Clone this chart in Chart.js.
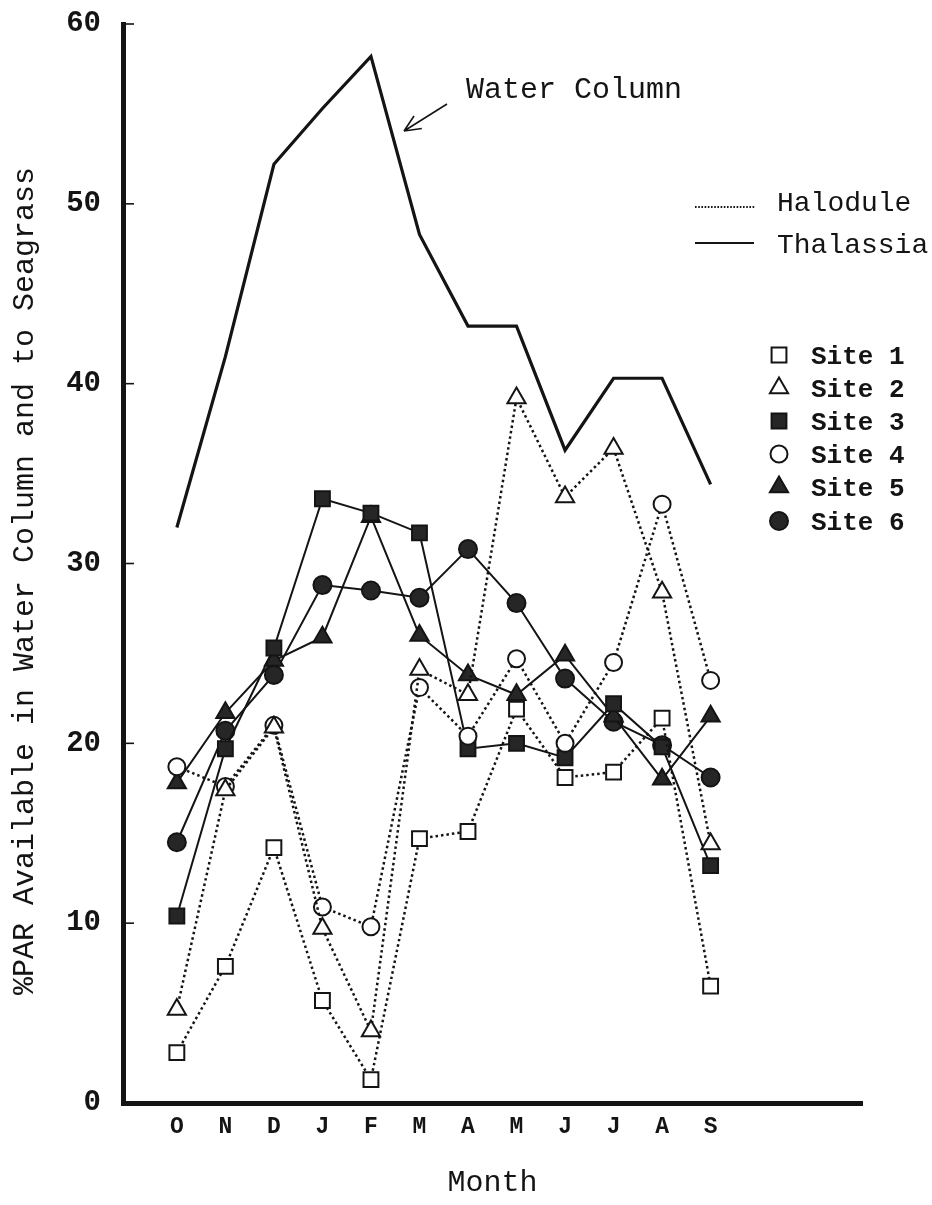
<!DOCTYPE html>
<html>
<head>
<meta charset="utf-8">
<title>%PAR Available in Water Column and to Seagrass</title>
<script src="https://cdn.jsdelivr.net/npm/chart.js@4.4.1/dist/chart.umd.min.js"></script>
<style>
  html, body { margin: 0; padding: 0; background: #fff; }
  canvas { display: block; }
</style>
</head>
<body>
<canvas id="chart" width="932" height="1205"></canvas>
<script>
// Month categories (October through September)
const months = ['O', 'N', 'D', 'J', 'F', 'M', 'A', 'M', 'J', 'J', 'A', 'S'];

// %PAR available in the water column
const waterColumn = [32.0, 41.5, 52.2, 55.3, 58.2, 48.3, 43.2, 43.2, 36.3, 40.3, 40.3, 34.4];

// %PAR reaching the seagrass at each site
const site1 = [2.8, 7.6, 14.2, 5.7, 1.3, 14.7, 15.1, 21.9, 18.1, 18.4, 21.4, 6.5];
const site2 = [5.2, 17.4, 20.9, 9.7, 4.0, 24.1, 22.7, 39.2, 33.7, 36.4, 28.4, 14.4];
const site3 = [10.4, 19.7, 25.3, 33.6, 32.8, 31.7, 19.7, 20.0, 19.2, 22.2, 19.8, 13.2];
const site4 = [18.7, 17.6, 21.0, 10.9, 9.8, 23.1, 20.4, 24.7, 20.0, 24.5, 33.3, 23.5];
const site5 = [17.8, 21.7, 24.6, 25.9, 32.6, 26.0, 23.8, 22.7, 24.9, 21.5, 18.0, 21.5];
const site6 = [14.5, 20.7, 23.8, 28.8, 28.5, 28.1, 30.8, 27.8, 23.6, 21.2, 19.9, 18.1];

// Y axis tick values
const yTicks = [0, 10, 20, 30, 40, 50, 60];

const INK = '#141414';
const MONO = '"Liberation Mono", "DejaVu Sans Mono", monospace';

const toPoints = vals => vals.map((v, i) => ({ x: i, y: v }));

// Halodule sites are dotted, Thalassia sites are solid
const dotted = { borderDash: [2.5, 3], borderWidth: 2.5 };
const solid = { borderDash: [], borderWidth: 2 };

function siteSet(label, vals, line, pointStyle, radius, filled) {
  return Object.assign({
    label,
    data: toPoints(vals),
    borderColor: INK,
    pointStyle,
    pointRadius: radius,
    pointBorderWidth: 2,
    pointBorderColor: INK,
    pointBackgroundColor: filled ? '#262626' : '#ffffff',
    tension: 0,
    fill: false
  }, line);
}

const datasets = [
  {
    label: 'Water Column',
    data: toPoints(waterColumn),
    borderColor: INK,
    borderWidth: 3.2,
    pointRadius: 0,
    tension: 0,
    fill: false
  },
  siteSet('Site 1', site1, dotted, 'rect', 10.5, false),
  siteSet('Site 2', site2, dotted, 'triangle', 10.5, false),
  siteSet('Site 4', site4, dotted, 'circle', 8.5, false),
  siteSet('Site 3', site3, solid, 'rect', 10.5, true),
  siteSet('Site 5', site5, solid, 'triangle', 10.5, true),
  siteSet('Site 6', site6, solid, 'circle', 9, true)
];

// Legend order shown on the chart
const legendOrder = ['Site 1', 'Site 2', 'Site 3', 'Site 4', 'Site 5', 'Site 6'];

function marker(ctx, ds, x, y) {
  ctx.save();
  ctx.fillStyle = ds.pointBackgroundColor;
  ctx.strokeStyle = ds.pointBorderColor;
  ctx.lineWidth = ds.pointBorderWidth;
  Chart.helpers.drawPoint(ctx, {
    pointStyle: ds.pointStyle,
    radius: ds.pointRadius,
    rotation: 0,
    borderWidth: ds.pointBorderWidth
  }, x, y);
  ctx.restore();
}

const annotations = {
  id: 'annotations',
  afterDraw(chart) {
    const ctx = chart.ctx;
    const yScale = chart.scales.y;
    const left = chart.chartArea.left;
    ctx.save();
    ctx.fillStyle = INK;
    ctx.strokeStyle = INK;

    // inward tick marks on the value axis
    ctx.lineWidth = 1.6;
    yTicks.forEach(v => {
      const py = yScale.getPixelForValue(v);
      ctx.beginPath();
      ctx.moveTo(left, py);
      ctx.lineTo(left + 11, py);
      ctx.stroke();
    });

    // value axis title
    ctx.save();
    ctx.translate(33, 581);
    ctx.rotate(-Math.PI / 2);
    ctx.font = '30px ' + MONO;
    ctx.textAlign = 'center';
    ctx.textBaseline = 'alphabetic';
    ctx.fillText('%PAR Available in Water Column and to Seagrass', 0, 0);
    ctx.restore();

    // water column label and arrow
    ctx.font = '30px ' + MONO;
    ctx.textAlign = 'left';
    ctx.textBaseline = 'alphabetic';
    ctx.fillText('Water Column', 466, 98);
    ctx.lineWidth = 1.6;
    const ax0 = 447, ay0 = 104, ax1 = 404, ay1 = 131;
    ctx.beginPath();
    ctx.moveTo(ax0, ay0);
    ctx.lineTo(ax1, ay1);
    const ang = Math.atan2(ay0 - ay1, ax0 - ax1);
    [0.42, -0.42].forEach(d => {
      ctx.moveTo(ax1, ay1);
      ctx.lineTo(ax1 + 18 * Math.cos(ang + d), ay1 + 18 * Math.sin(ang + d));
    });
    ctx.stroke();

    // seagrass line-type key
    ctx.font = '28px ' + MONO;
    ctx.lineWidth = 2;
    ctx.setLineDash([1.6, 1.6]);
    ctx.beginPath();
    ctx.moveTo(695, 207);
    ctx.lineTo(755, 207);
    ctx.stroke();
    ctx.setLineDash([]);
    ctx.beginPath();
    ctx.moveTo(695, 243);
    ctx.lineTo(754, 243);
    ctx.stroke();
    ctx.fillText('Halodule', 777, 211);
    ctx.fillText('Thalassia', 777, 253);

    // site key
    const rowY = [355, 388, 421, 454, 487, 521];
    ctx.font = 'bold 26px ' + MONO;
    legendOrder.forEach((name, i) => {
      const ds = chart.data.datasets.find(d => d.label === name);
      marker(ctx, ds, 779, rowY[i]);
      ctx.fillStyle = INK;
      ctx.fillText(name, 811, rowY[i] + 9);
    });
    ctx.restore();
  }
};

new Chart(document.getElementById('chart'), {
  type: 'line',
  data: { datasets },
  options: {
    responsive: false,
    animation: false,
    devicePixelRatio: 1,
    layout: { padding: { top: 24, right: 70, left: 0, bottom: 0 } },
    plugins: {
      legend: { display: false },
      tooltip: { enabled: false }
    },
    scales: {
      x: {
        type: 'linear',
        min: -1.11,
        max: 14.12,
        afterFit(scale) {
          scale.height = 102;
          scale.paddingLeft = 0;
          scale.paddingRight = 0;
        },
        afterBuildTicks(scale) { scale.ticks = months.map((m, i) => ({ value: i })); },
        ticks: {
          autoSkip: false,
          maxRotation: 0,
          padding: 10,
          color: INK,
          font: { family: MONO, size: 23, weight: 'bold' },
          callback: v => months[v]
        },
        grid: { drawOnChartArea: false, drawTicks: false, color: 'rgba(0,0,0,0)' },
        border: { display: true, width: 5, color: INK },
        title: {
          display: true,
          text: 'Month',
          color: INK,
          font: { family: MONO, size: 30 },
          padding: { top: 0, bottom: 4 }
        }
      },
      y: {
        min: 0,
        max: 60,
        afterFit(scale) {
          scale.width = 123;
          scale.paddingTop = 0;
          scale.paddingBottom = 0;
        },
        afterBuildTicks(scale) { scale.ticks = yTicks.map(v => ({ value: v })); },
        ticks: {
          padding: 22,
          color: INK,
          font: { family: MONO, size: 29, weight: 'bold' }
        },
        grid: { drawOnChartArea: false, drawTicks: false, color: 'rgba(0,0,0,0)' },
        border: { display: true, width: 5, color: INK }
      }
    }
  },
  plugins: [annotations]
});
</script>
</body>
</html>
